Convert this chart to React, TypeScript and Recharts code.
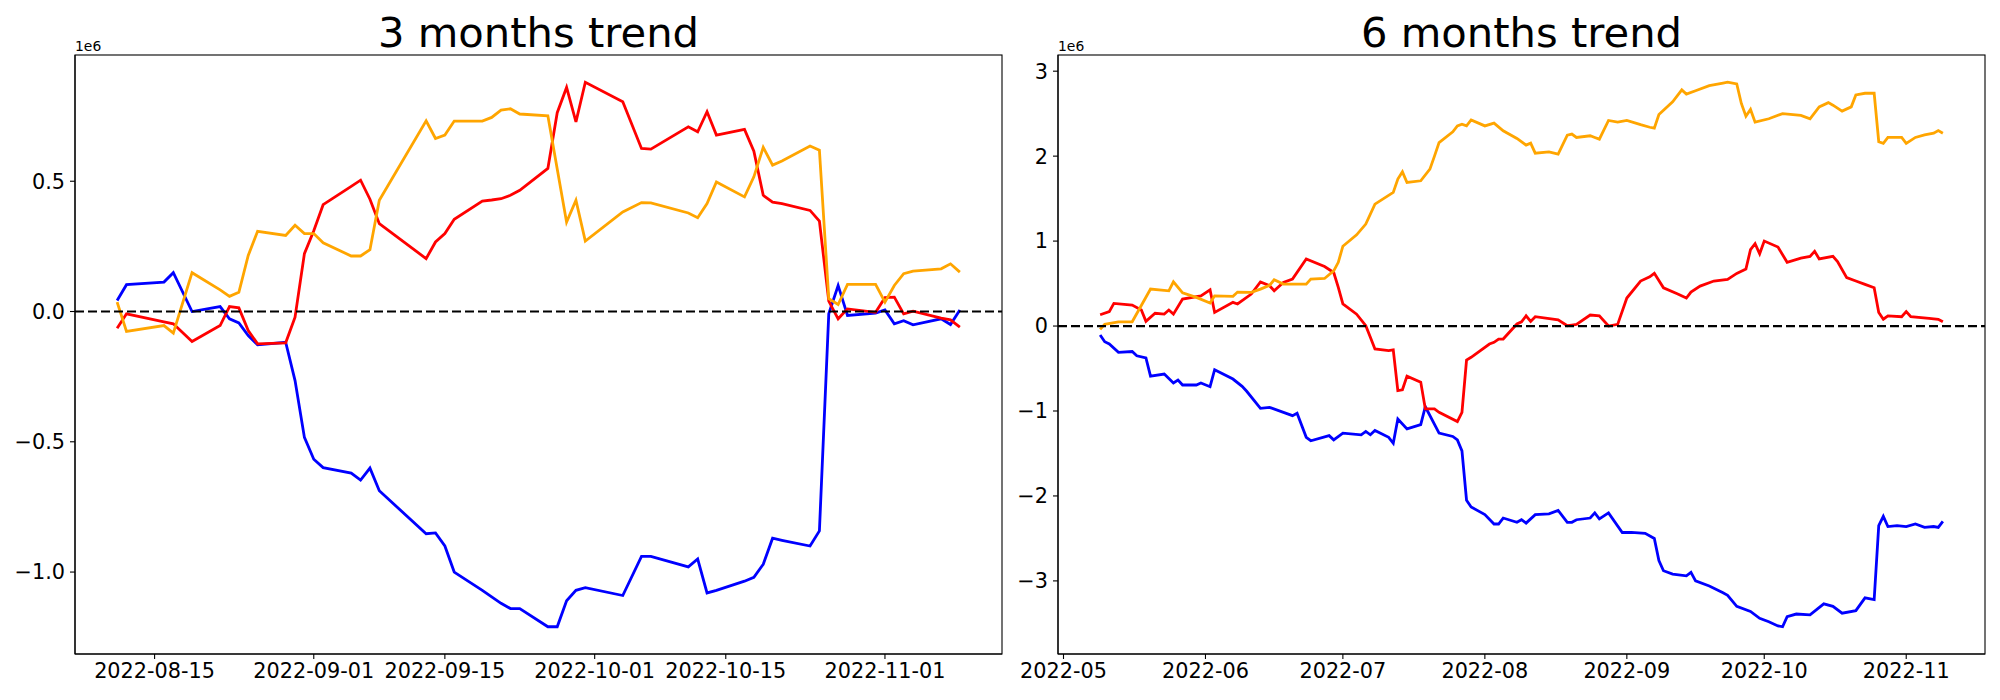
import { LineChart, Line, XAxis, YAxis, ReferenceLine } from "recharts";

const FONT = "DejaVu Sans";

// values are in millions (the axis offset label reads "1e6")

// ---- 3 months trend ----
const threeMonthDates = [
  "2022-08-11", "2022-08-12", "2022-08-16", "2022-08-17", "2022-08-19",
  "2022-08-22", "2022-08-23", "2022-08-24", "2022-08-25", "2022-08-26",
  "2022-08-29", "2022-08-30", "2022-08-31", "2022-09-01", "2022-09-02",
  "2022-09-05", "2022-09-06", "2022-09-07", "2022-09-08",
  "2022-09-13", "2022-09-14", "2022-09-15", "2022-09-16",
  "2022-09-19", "2022-09-20", "2022-09-21", "2022-09-22", "2022-09-23",
  "2022-09-26", "2022-09-27", "2022-09-28", "2022-09-29", "2022-09-30",
  "2022-10-04", "2022-10-06", "2022-10-07",
  "2022-10-11", "2022-10-12", "2022-10-13", "2022-10-14",
  "2022-10-17", "2022-10-18", "2022-10-19", "2022-10-20", "2022-10-21",
  "2022-10-24", "2022-10-25", "2022-10-26", "2022-10-27", "2022-10-28",
  "2022-10-31", "2022-11-01", "2022-11-02", "2022-11-03", "2022-11-04",
  "2022-11-07", "2022-11-08", "2022-11-09",
];

const threeMonthBlue = [
  0.042, 0.103, 0.113, 0.149, 0.0,
  0.019, -0.028, -0.044, -0.092, -0.128,
  -0.118, -0.265, -0.483, -0.567, -0.599,
  -0.62, -0.647, -0.601, -0.688,
  -0.853, -0.85, -0.9, -1.0,
  -1.07, -1.095, -1.12, -1.14, -1.14,
  -1.21, -1.21, -1.11, -1.07, -1.06,
  -1.09, -0.94, -0.94,
  -0.98, -0.95, -1.08, -1.07,
  -1.035, -1.02, -0.97, -0.87, -0.878,
  -0.9, -0.842, -0.009, 0.1, -0.015,
  -0.006, 0.006, -0.047, -0.035, -0.051,
  -0.028, -0.05, 0.006,
];

const threeMonthRed = [
  -0.064, -0.009, -0.04, -0.047, -0.115,
  -0.054, 0.019, 0.014, -0.073, -0.124,
  -0.12, -0.022, 0.222, 0.31, 0.41,
  0.48, 0.504, 0.431, 0.337,
  0.203, 0.267, 0.299, 0.354,
  0.424, 0.428, 0.433, 0.446, 0.465,
  0.549, 0.763, 0.86, 0.728, 0.88,
  0.805, 0.626, 0.623,
  0.709, 0.69, 0.767, 0.677,
  0.699, 0.615, 0.446, 0.42, 0.414,
  0.388, 0.347, 0.04, -0.028, 0.01,
  -0.003, 0.053, 0.055, -0.009, 0.001,
  -0.025, -0.032, -0.06,
];

const threeMonthOrange = [
  0.036, -0.076, -0.054, -0.083, 0.149,
  0.083, 0.058, 0.074, 0.215, 0.308,
  0.292, 0.331, 0.299, 0.299, 0.264,
  0.213, 0.213, 0.237, 0.427,
  0.732, 0.664, 0.677, 0.731,
  0.731, 0.745, 0.773, 0.778, 0.758,
  0.751, 0.547, 0.343, 0.427, 0.27,
  0.382, 0.418, 0.417,
  0.378, 0.36, 0.414, 0.497,
  0.44, 0.517, 0.63, 0.562, 0.578,
  0.635, 0.619, 0.049, 0.027, 0.104,
  0.104, 0.036, 0.1, 0.145, 0.155,
  0.164, 0.183, 0.151,
];

const threeMonthXTicks = ["2022-08-15", "2022-09-01", "2022-09-15", "2022-10-01", "2022-10-15", "2022-11-01"];
const threeMonthYTicks = [-1, -0.5, 0, 0.5];

// ---- 6 months trend ----
const sixMonthBlueDates = [
  "2022-05-09", "2022-05-10", "2022-05-11", "2022-05-13", "2022-05-16", "2022-05-17", "2022-05-19", "2022-05-20",
  "2022-05-23", "2022-05-25", "2022-05-26", "2022-05-27", "2022-05-30", "2022-05-31", "2022-06-02", "2022-06-03",
  "2022-06-07", "2022-06-09", "2022-06-10", "2022-06-13", "2022-06-15", "2022-06-20", "2022-06-21", "2022-06-23",
  "2022-06-24", "2022-06-28", "2022-06-29", "2022-07-01", "2022-07-05", "2022-07-06", "2022-07-07", "2022-07-08",
  "2022-07-11", "2022-07-12", "2022-07-13", "2022-07-15", "2022-07-18", "2022-07-19", "2022-07-22", "2022-07-25",
  "2022-07-26", "2022-07-27", "2022-07-28", "2022-07-29", "2022-08-01", "2022-08-03", "2022-08-04", "2022-08-05",
  "2022-08-08", "2022-08-09", "2022-08-10", "2022-08-12", "2022-08-15", "2022-08-17", "2022-08-19", "2022-08-20",
  "2022-08-21", "2022-08-24", "2022-08-25", "2022-08-26", "2022-08-28", "2022-08-31", "2022-09-02", "2022-09-05",
  "2022-09-07", "2022-09-08", "2022-09-09", "2022-09-11", "2022-09-14", "2022-09-15", "2022-09-16", "2022-09-19",
  "2022-09-22", "2022-09-23", "2022-09-25", "2022-09-28", "2022-09-30", "2022-10-02", "2022-10-04", "2022-10-05",
  "2022-10-06", "2022-10-08", "2022-10-11", "2022-10-14", "2022-10-16", "2022-10-18", "2022-10-21", "2022-10-23",
  "2022-10-25", "2022-10-26", "2022-10-27", "2022-10-28", "2022-10-30", "2022-11-01", "2022-11-03", "2022-11-05",
  "2022-11-07", "2022-11-08", "2022-11-09",
];
const sixMonthBlue = [
  -0.106, -0.184, -0.21, -0.31, -0.3, -0.35, -0.376, -0.59,
  -0.565, -0.67, -0.635, -0.694, -0.694, -0.67, -0.714, -0.514,
  -0.624, -0.71, -0.768, -0.968, -0.957, -1.055, -1.027, -1.31,
  -1.35, -1.29, -1.34, -1.26, -1.28, -1.24, -1.28, -1.23,
  -1.31, -1.38, -1.094, -1.21, -1.16, -0.95, -1.26, -1.3,
  -1.34, -1.47, -2.05, -2.13, -2.22, -2.33, -2.33, -2.26,
  -2.31, -2.28, -2.32, -2.22, -2.21, -2.17, -2.31, -2.31,
  -2.28, -2.26, -2.2, -2.27, -2.2, -2.43, -2.43, -2.44,
  -2.5, -2.76, -2.88, -2.92, -2.94, -2.9, -3.0, -3.06,
  -3.14, -3.17, -3.3, -3.36, -3.44, -3.48, -3.53, -3.54,
  -3.42, -3.39, -3.4, -3.27, -3.3, -3.38, -3.35, -3.2,
  -3.22, -2.35, -2.24, -2.36, -2.35, -2.36, -2.33, -2.37,
  -2.36, -2.37, -2.3,
];

const sixMonthRedDates = [
  "2022-05-09", "2022-05-11", "2022-05-12", "2022-05-16", "2022-05-18", "2022-05-19", "2022-05-21", "2022-05-23",
  "2022-05-24", "2022-05-25", "2022-05-27", "2022-05-31", "2022-06-02", "2022-06-03", "2022-06-07", "2022-06-08",
  "2022-06-11", "2022-06-13", "2022-06-15", "2022-06-16", "2022-06-18", "2022-06-20", "2022-06-23", "2022-06-27",
  "2022-06-29", "2022-06-30", "2022-07-01", "2022-07-04", "2022-07-06", "2022-07-07", "2022-07-08", "2022-07-11",
  "2022-07-12", "2022-07-13", "2022-07-14", "2022-07-15", "2022-07-18", "2022-07-19", "2022-07-21", "2022-07-22",
  "2022-07-26", "2022-07-27", "2022-07-28", "2022-07-29", "2022-08-02", "2022-08-03", "2022-08-04", "2022-08-05",
  "2022-08-08", "2022-08-09", "2022-08-10", "2022-08-11", "2022-08-12", "2022-08-17", "2022-08-19", "2022-08-20",
  "2022-08-21", "2022-08-24", "2022-08-26", "2022-08-28", "2022-08-30", "2022-09-01", "2022-09-04", "2022-09-06",
  "2022-09-07", "2022-09-09", "2022-09-12", "2022-09-14", "2022-09-15", "2022-09-17", "2022-09-20", "2022-09-23",
  "2022-09-25", "2022-09-27", "2022-09-28", "2022-09-29", "2022-09-30", "2022-10-01", "2022-10-04", "2022-10-06",
  "2022-10-09", "2022-10-11", "2022-10-12", "2022-10-13", "2022-10-16", "2022-10-17", "2022-10-19", "2022-10-21",
  "2022-10-23", "2022-10-25", "2022-10-26", "2022-10-27", "2022-10-28", "2022-10-31", "2022-11-01", "2022-11-02",
  "2022-11-06", "2022-11-08", "2022-11-09",
];
const sixMonthRed = [
  0.133, 0.17, 0.267, 0.247, 0.19, 0.055, 0.15, 0.14,
  0.188, 0.14, 0.318, 0.356, 0.427, 0.16, 0.279, 0.26,
  0.376, 0.52, 0.474, 0.415, 0.514, 0.553, 0.79, 0.7,
  0.63, 0.455, 0.26, 0.14, 0.004, -0.133, -0.27, -0.29,
  -0.28, -0.76, -0.75, -0.59, -0.66, -0.976, -0.976, -1.016,
  -1.125, -1.016, -0.4, -0.368, -0.212, -0.192, -0.153, -0.153,
  0.024, 0.05, 0.12, 0.055, 0.11, 0.074, 0.004, 0.012,
  0.02, 0.13, 0.12, 0.0, 0.02, 0.33, 0.53, 0.58,
  0.62, 0.45, 0.38, 0.33, 0.4, 0.47, 0.53, 0.55,
  0.62, 0.67, 0.9, 0.97, 0.85, 1.0, 0.93, 0.75,
  0.8, 0.82, 0.88, 0.79, 0.82, 0.76, 0.57, 0.53,
  0.49, 0.45, 0.16, 0.08, 0.12, 0.11, 0.17, 0.11,
  0.09, 0.08, 0.05,
];

const sixMonthOrangeDates = [
  "2022-05-09", "2022-05-10", "2022-05-13", "2022-05-16", "2022-05-20", "2022-05-24", "2022-05-25", "2022-05-27",
  "2022-05-30", "2022-06-02", "2022-06-03", "2022-06-07", "2022-06-08", "2022-06-11", "2022-06-13", "2022-06-15",
  "2022-06-16", "2022-06-18", "2022-06-23", "2022-06-24", "2022-06-27", "2022-06-29", "2022-06-30", "2022-07-01",
  "2022-07-04", "2022-07-06", "2022-07-08", "2022-07-12", "2022-07-13", "2022-07-14", "2022-07-15", "2022-07-18",
  "2022-07-20", "2022-07-21", "2022-07-22", "2022-07-25", "2022-07-26", "2022-07-27", "2022-07-28", "2022-07-29",
  "2022-08-01", "2022-08-03", "2022-08-05", "2022-08-08", "2022-08-10", "2022-08-11", "2022-08-12", "2022-08-15",
  "2022-08-17", "2022-08-19", "2022-08-20", "2022-08-21", "2022-08-24", "2022-08-25", "2022-08-26", "2022-08-28",
  "2022-08-30", "2022-09-01", "2022-09-04", "2022-09-06", "2022-09-07", "2022-09-08", "2022-09-11", "2022-09-13",
  "2022-09-14", "2022-09-16", "2022-09-19", "2022-09-22", "2022-09-23", "2022-09-25", "2022-09-26", "2022-09-27",
  "2022-09-28", "2022-09-29", "2022-10-02", "2022-10-05", "2022-10-09", "2022-10-11", "2022-10-13", "2022-10-15",
  "2022-10-16", "2022-10-18", "2022-10-20", "2022-10-21", "2022-10-23", "2022-10-25", "2022-10-26", "2022-10-27",
  "2022-10-28", "2022-10-31", "2022-11-01", "2022-11-03", "2022-11-05", "2022-11-07", "2022-11-08", "2022-11-09",
];
const sixMonthOrange = [
  -0.04, 0.02, 0.05, 0.05, 0.435, 0.415, 0.52, 0.39,
  0.337, 0.27, 0.356, 0.35, 0.4, 0.396, 0.435, 0.48,
  0.545, 0.494, 0.494, 0.553, 0.56, 0.65, 0.75, 0.94,
  1.074, 1.2, 1.435, 1.573, 1.73, 1.815, 1.69, 1.71,
  1.847, 2.0, 2.16, 2.286, 2.356, 2.376, 2.356, 2.427,
  2.356, 2.388, 2.298, 2.208, 2.13, 2.153, 2.035, 2.05,
  2.024, 2.247, 2.26, 2.22, 2.24, 2.22, 2.2, 2.42,
  2.4, 2.42, 2.37, 2.34, 2.33, 2.49, 2.64, 2.78,
  2.73, 2.77, 2.83, 2.86, 2.87, 2.85, 2.62, 2.47,
  2.55, 2.4, 2.44, 2.5, 2.48, 2.44, 2.58, 2.63,
  2.6, 2.53, 2.58, 2.72, 2.74, 2.74, 2.17, 2.15,
  2.22, 2.22, 2.15, 2.22, 2.25, 2.27, 2.3, 2.27,
];

const sixMonthXTicks = ["2022-05-01", "2022-06-01", "2022-07-01", "2022-08-01", "2022-09-01", "2022-10-01", "2022-11-01"];
const sixMonthYTicks = [-3, -2, -1, 0, 1, 2, 3];

const BLUE = "#0000ff";
const RED = "#ff0000";
const ORANGE = "#ffa500";

type Point = { t: number; v: number };
type Series = { name: string; color: string; points: Point[] };

const toTime = (d: string) => Date.parse(d);
const toPoints = (dates: string[], values: number[]): Point[] =>
  dates.map((d, i) => ({ t: toTime(d), v: values[i] }));

// matplotlib-like 5% margins around the data
function padded(nums: number[]): [number, number] {
  const lo = Math.min(...nums);
  const hi = Math.max(...nums);
  const pad = (hi - lo) * 0.05;
  return [lo - pad, hi + pad];
}

const minus = (s: string) => s.replace("-", "\u2212");

const threeMonthSeries: Series[] = [
  { name: "blue", color: BLUE, points: toPoints(threeMonthDates, threeMonthBlue) },
  { name: "red", color: RED, points: toPoints(threeMonthDates, threeMonthRed) },
  { name: "orange", color: ORANGE, points: toPoints(threeMonthDates, threeMonthOrange) },
];

const sixMonthSeries: Series[] = [
  { name: "blue", color: BLUE, points: toPoints(sixMonthBlueDates, sixMonthBlue) },
  { name: "red", color: RED, points: toPoints(sixMonthRedDates, sixMonthRed) },
  { name: "orange", color: ORANGE, points: toPoints(sixMonthOrangeDates, sixMonthOrange) },
];

const PLOT_TOP = 55;
const CHART_H = 700;
const X_AXIS_H = 46;
const TICK_FONT = 20.8;

interface PanelProps {
  title: string;
  left: number;
  width: number;
  yAxisWidth: number;
  marginRight: number;
  series: Series[];
  xTicks: string[];
  formatX: (t: number) => string;
  yTicks: number[];
  formatY: (v: number) => string;
}

function Panel({ title, left, width, yAxisWidth, marginRight, series, xTicks, formatX, yTicks, formatY }: PanelProps) {
  const xDomain = padded(series.flatMap((s) => s.points.map((p) => p.t)));
  const yDomain = padded(series.flatMap((s) => s.points.map((p) => p.v)));
  const plotLeft = yAxisWidth;
  const plotRight = width - marginRight;
  const plotBottom = CHART_H - X_AXIS_H;
  const tickStyle = { fill: "#000", fontSize: TICK_FONT, fontFamily: FONT };
  const spine = { stroke: "#000", strokeWidth: 1.1 };

  return (
    <div style={{ position: "absolute", left, top: 0, width, height: CHART_H }}>
      <LineChart width={width} height={CHART_H} margin={{ top: PLOT_TOP, right: marginRight, bottom: 0, left: 0 }}>
        <XAxis
          dataKey="t"
          type="number"
          domain={xDomain}
          allowDataOverflow
          ticks={xTicks.map(toTime)}
          tickFormatter={formatX}
          interval={0}
          height={X_AXIS_H}
          tickSize={5}
          tickMargin={4}
          tick={tickStyle}
          axisLine={spine}
          tickLine={spine}
        />
        <YAxis
          type="number"
          domain={yDomain}
          allowDataOverflow
          ticks={yTicks}
          tickFormatter={formatY}
          interval={0}
          width={yAxisWidth}
          tickSize={5}
          tickMargin={5}
          tick={tickStyle}
          axisLine={spine}
          tickLine={spine}
        />
        {series.map((s) => (
          <Line
            key={s.name}
            data={s.points}
            dataKey="v"
            type="linear"
            stroke={s.color}
            strokeWidth={2.8}
            dot={false}
            activeDot={false}
            isAnimationActive={false}
          />
        ))}
        <ReferenceLine y={0} stroke="#000" strokeWidth={2.2} strokeDasharray="9 4" />
      </LineChart>
      {/* axes frame, title and offset label drawn over the chart */}
      <svg width={width} height={CHART_H} style={{ position: "absolute", left: 0, top: 0, pointerEvents: "none" }}>
        <rect
          x={plotLeft}
          y={PLOT_TOP}
          width={plotRight - plotLeft}
          height={plotBottom - PLOT_TOP}
          fill="none"
          stroke="#000"
          strokeWidth={1.1}
        />
        <text x={(plotLeft + plotRight) / 2} y={47} textAnchor="middle" fontFamily={FONT} fontSize={41.7} fill="#000">
          {title}
        </text>
        <text x={plotLeft} y={51} fontFamily={FONT} fontSize={13.9} fill="#000">
          1e6
        </text>
      </svg>
    </div>
  );
}

export default function App() {
  return (
    <div style={{ position: "absolute", left: 0, top: 0, width: 2000, height: 700, background: "#fff" }}>
      <Panel
        title="3 months trend"
        left={0}
        width={1010}
        yAxisWidth={75}
        marginRight={8}
        series={threeMonthSeries}
        xTicks={threeMonthXTicks}
        formatX={(t) => new Date(t).toISOString().slice(0, 10)}
        yTicks={threeMonthYTicks}
        formatY={(v) => minus(v.toFixed(1))}
      />
      <Panel
        title="6 months trend"
        left={1010}
        width={990}
        yAxisWidth={48}
        marginRight={15}
        series={sixMonthSeries}
        xTicks={sixMonthXTicks}
        formatX={(t) => new Date(t).toISOString().slice(0, 7)}
        yTicks={sixMonthYTicks}
        formatY={(v) => minus(String(v))}
      />
    </div>
  );
}
